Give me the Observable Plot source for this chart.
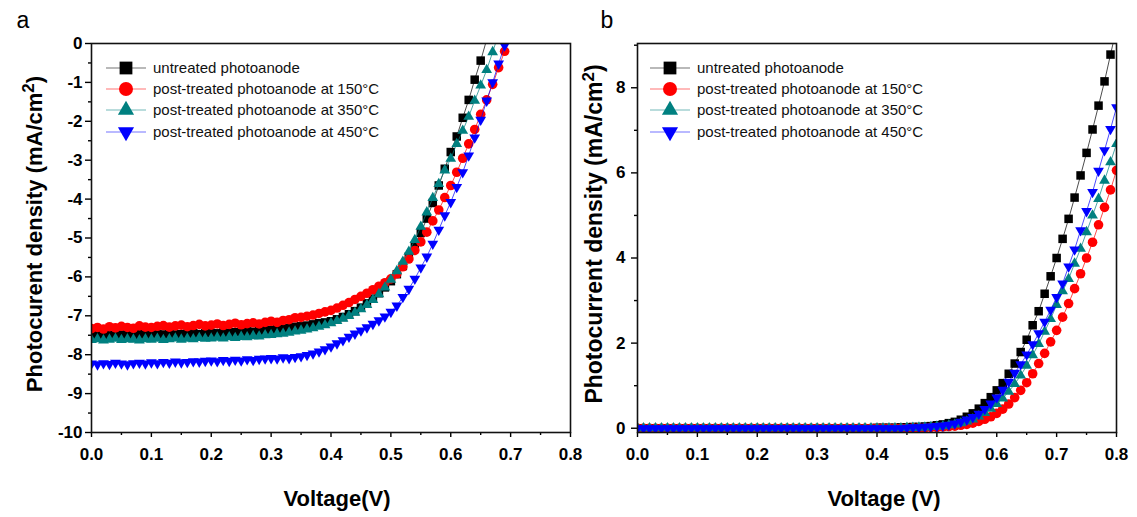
<!DOCTYPE html>
<html><head><meta charset="utf-8">
<script src="https://cdn.jsdelivr.net/npm/d3@7"></script>
<script src="https://cdn.jsdelivr.net/npm/@observablehq/plot@0.6"></script>
<style>
html,body{margin:0;padding:0;background:#fff;}
#wrap{position:relative;width:1137px;height:517px;overflow:hidden;font-family:"Liberation Sans",Arial,sans-serif;}
#wrap svg{position:absolute;top:0;}
</style></head><body><div id="wrap"></div>
<script>
// ---------- shared ----------
const seriesNames = ["untreated photoanode","post-treated photoanode at 150°C","post-treated photoanode at 350°C","post-treated photoanode at 450°C"];
const seriesColors = ["#000000","#ff0000","#008080","#0000ff"];

// ---------- panel a ----------
const voltsA = [0.00,0.01,0.02,0.03,0.04,0.05,0.06,0.07,0.08,0.09,0.10,0.11,0.12,0.13,0.14,0.15,0.16,0.17,0.18,0.19,0.20,0.21,0.22,0.23,0.24,0.25,0.26,0.27,0.28,0.29,0.30,0.31,0.32,0.33,0.34,0.35,0.36,0.37,0.38,0.39,0.40,0.41,0.42,0.43,0.44,0.45,0.46,0.47,0.48,0.49,0.50,0.51,0.52,0.53,0.54,0.55,0.56,0.57,0.58,0.59,0.60,0.61,0.62,0.63,0.64,0.65,0.66,0.67,0.68,0.69,0.70];
const untreatedA = [-7.48,-7.50,-7.47,-7.49,-7.51,-7.48,-7.49,-7.50,-7.47,-7.48,
 -7.49,-7.47,-7.48,-7.46,-7.48,-7.47,-7.46,-7.45,-7.47,-7.45,
 -7.44,-7.45,-7.43,-7.44,-7.42,-7.41,-7.40,-7.41,-7.38,-7.37,
 -7.36,-7.34,-7.33,-7.31,-7.28,-7.27,-7.25,-7.22,-7.19,-7.17,
 -7.14,-7.09,-7.03,-6.96,-6.88,-6.79,-6.68,-6.56,-6.42,-6.27,
 -6.11,-5.93,-5.72,-5.48,-5.20,-4.87,-4.50,-4.10,-3.65,-3.22,
 -2.79,-2.39,-1.91,-1.45,-0.93,-0.44,0.10];
const t150A = [-7.33,-7.30,-7.34,-7.28,-7.31,-7.27,-7.30,-7.32,-7.26,-7.29,
 -7.30,-7.27,-7.25,-7.29,-7.26,-7.24,-7.28,-7.25,-7.22,-7.26,
 -7.24,-7.21,-7.25,-7.22,-7.19,-7.23,-7.20,-7.18,-7.21,-7.17,
 -7.14,-7.17,-7.12,-7.10,-7.05,-7.04,-7.01,-6.98,-6.94,-6.90,
 -6.86,-6.80,-6.73,-6.66,-6.58,-6.50,-6.42,-6.33,-6.24,-6.15,
 -6.05,-5.92,-5.74,-5.54,-5.32,-5.10,-4.85,-4.56,-4.28,-3.96,
 -3.65,-3.31,-2.95,-2.58,-2.21,-1.82,-1.45,-1.05,-0.62,-0.20,
 0.22];
const t350A = [-7.62,-7.60,-7.63,-7.61,-7.59,-7.62,-7.60,-7.61,-7.63,-7.60,
 -7.61,-7.59,-7.62,-7.60,-7.58,-7.61,-7.59,-7.60,-7.57,-7.59,
 -7.58,-7.56,-7.58,-7.55,-7.57,-7.54,-7.55,-7.52,-7.53,-7.50,
 -7.49,-7.47,-7.46,-7.43,-7.40,-7.38,-7.35,-7.32,-7.28,-7.24,
 -7.19,-7.13,-7.07,-7.00,-6.92,-6.83,-6.72,-6.59,-6.44,-6.27,
 -6.07,-5.85,-5.61,-5.35,-5.05,-4.71,-4.34,-3.97,-3.61,-3.26,
 -2.96,-2.58,-2.24,-1.88,-1.47,-1.08,-0.68,-0.22,0.25];
const t450A = [-8.23,-8.25,-8.22,-8.24,-8.21,-8.23,-8.25,-8.22,-8.21,-8.23,
 -8.20,-8.22,-8.19,-8.21,-8.18,-8.20,-8.19,-8.17,-8.18,-8.16,
 -8.15,-8.17,-8.14,-8.16,-8.13,-8.15,-8.12,-8.14,-8.11,-8.10,
 -8.09,-8.10,-8.07,-8.09,-8.06,-8.04,-8.01,-7.97,-7.92,-7.86,
 -7.79,-7.71,-7.63,-7.54,-7.46,-7.38,-7.30,-7.21,-7.12,-7.02,
 -6.90,-6.74,-6.52,-6.31,-6.05,-5.76,-5.48,-5.15,-4.79,-4.42,
 -4.08,-3.69,-3.31,-2.88,-2.42,-1.96,-1.47,-1.00,-0.52,-0.05,
 0.42];
const xTicks = [0,0.1,0.2,0.3,0.4,0.5,0.6,0.7,0.8];
const xMinor = [0.05,0.15,0.25,0.35,0.45,0.55,0.65,0.75];
const yTicksA = [0,-1,-2,-3,-4,-5,-6,-7,-8,-9,-10];
const yMinorA = [-0.5,-1.5,-2.5,-3.5,-4.5,-5.5,-6.5,-7.5,-8.5,-9.5];
const ylabelA = "Photocurent density (mA/cm2)";
const xlabelA = "Voltage(V)";

// ---------- panel b ----------
const voltsB = [0.00,0.01,0.02,0.03,0.04,0.05,0.06,0.07,0.08,0.09,0.10,0.11,0.12,0.13,0.14,0.15,0.16,0.17,0.18,0.19,0.20,0.21,0.22,0.23,0.24,0.25,0.26,0.27,0.28,0.29,0.30,0.31,0.32,0.33,0.34,0.35,0.36,0.37,0.38,0.39,0.40,0.41,0.42,0.43,0.44,0.45,0.46,0.47,0.48,0.49,0.50,0.51,0.52,0.53,0.54,0.55,0.56,0.57,0.58,0.59,0.60,0.61,0.62,0.63,0.64,0.65,0.66,0.67,0.68,0.69,0.70,0.71,0.72,0.73,0.74,0.75,0.76,0.77,0.78,0.79,0.80];
const untreatedB = [0,0,0,0,0,0,0,0,0,0,
 0,0,0,0,0,0,0,0,0,0,
 0,0,0,0,0,0,0,0,0,0,
 0,0,0,0,0,0,0,0,0,0,
 0.01,0.01,0.01,0.01,0.02,0.02,0.03,0.03,0.04,0.05,
 0.07,0.09,0.12,0.15,0.20,0.27,0.35,0.46,0.59,0.73,
 0.89,1.06,1.28,1.52,1.79,2.08,2.42,2.75,3.16,3.57,
 4.00,4.45,4.92,5.42,5.94,6.47,7.02,7.58,8.15,8.78,
 9.40];
const t150B = [0,0,0,0,0,0,0,0,0,0,
 0,0,0,0,0,0,0,0,0,0,
 0,0,0,0,0,0,0,0,0,0,
 0,0,0,0,0,0,0,0,0,0,
 0,0,0,0,0,0,0.01,0.01,0.01,0.02,
 0.02,0.03,0.04,0.05,0.07,0.09,0.12,0.16,0.21,0.27,
 0.35,0.45,0.57,0.72,0.89,1.07,1.28,1.52,1.76,2.03,
 2.30,2.61,2.93,3.28,3.63,4.00,4.37,4.78,5.19,5.60,
 6.06];
const t350B = [0,0,0,0,0,0,0,0,0,0,
 0,0,0,0,0,0,0,0,0,0,
 0,0,0,0,0,0,0,0,0,0,
 0,0,0,0,0,0,0,0,0,0,
 0,0,0,0,0,0.01,0.01,0.02,0.02,0.03,
 0.04,0.05,0.07,0.09,0.12,0.16,0.21,0.28,0.36,0.46,
 0.57,0.70,0.86,1.04,1.24,1.47,1.72,1.98,2.27,2.57,
 2.90,3.22,3.51,3.87,4.22,4.61,5.00,5.39,5.82,6.25,
 6.68];
const t450B = [0,0,0,0,0,0,0,0,0,0,
 0,0,0,0,0,0,0,0,0,0,
 0,0,0,0,0,0,0,0,0,0,
 0,0,0,0,0,0,0,0,0,0,
 0,0,0,0,0,0.01,0.02,0.02,0.03,0.04,
 0.05,0.06,0.08,0.11,0.15,0.20,0.26,0.34,0.45,0.58,
 0.72,0.90,1.09,1.30,1.50,1.73,1.97,2.23,2.50,2.78,
 3.08,3.40,3.80,4.20,4.65,5.10,5.55,6.05,6.53,7.03,
 7.54];
const yTicksB = [0,2,4,6,8];
const yMinorB = [1,3,5,7,9];
const ylabelB = "Photocurrent density (mA/cm2)";
const xlabelB = "Voltage (V)";

// ---------- symbols ----------
const S3 = Math.sqrt(3);
const triangleDown = {draw(context, size) {
  const y = Math.sqrt(size / (S3 * 3));
  context.moveTo(0, 2 * y);
  context.lineTo(S3 * y, -y);
  context.lineTo(-S3 * y, -y);
  context.closePath();
}};
const seriesSymbols = ["square", "circle", "triangle", triangleDown];
const d3Symbols = [d3.symbolSquare, d3.symbolCircle, d3.symbolTriangle, triangleDown];
const dotR = [4.8, 4.8, 4.0, 4.0];
const legendR = [7.2, 7.0, 6.0, 6.0];
const FONT = '"Liberation Sans", Arial, Helvetica, sans-serif';

function panel(o) {
  const marks = [];
  o.series.forEach((vals, s) => {
    const rows = vals.map((J, i) => ({V: o.volts[i], J}));
    marks.push(Plot.line(rows, {x: "V", y: "J", stroke: seriesColors[s], strokeWidth: 1, strokeOpacity: 0.7, clip: true}));
    marks.push(Plot.dot(rows, {x: "V", y: "J", symbol: seriesSymbols[s], r: dotR[s], fill: seriesColors[s], stroke: "none", clip: true}));
  });
  marks.push(
    Plot.axisX({ticks: xTicks, tickSize: 5, tickPadding: 10, tickFormat: d3.format(".1f"), strokeWidth: 1.4, label: null}),
    Plot.axisX({ticks: xMinor, tickSize: 3, strokeWidth: 1.4, fill: "none", label: null}),
    Plot.axisY({ticks: o.yTicks, tickSize: 6, tickPadding: o.yPad, tickFormat: d => String(d), strokeWidth: 1.4, label: null}),
    Plot.axisY({ticks: o.yMinor, tickSize: 3, strokeWidth: 1.4, fill: "none", label: null}),
    Plot.frame({stroke: "#111", strokeWidth: 1.6}),
    Plot.text([o.ylabel], {text: d => d, frameAnchor: "left", textAnchor: "middle", lineAnchor: "middle", rotate: -90, dx: o.ylabelDx, dy: -4, fontSize: o.ylabelSize, fontWeight: "bold"}),
    Plot.text([o.xlabel], {text: d => d, frameAnchor: "bottom", textAnchor: "middle", dx: o.xlabelDx, dy: 73, lineAnchor: "bottom", fontSize: 22, fontWeight: "bold"}),
    Plot.text([o.letter], {text: d => d, frameAnchor: "top-left", dx: o.letterDx, dy: -16, textAnchor: "start", lineAnchor: "bottom", fontSize: 23, fontWeight: "normal"})
  );
  const svg = Plot.plot({
    width: o.width, height: 517,
    marginLeft: o.marginLeft, marginRight: o.marginRight, marginTop: 43, marginBottom: 85,
    x: {domain: [0, 0.8], label: null},
    y: {domain: o.yDomain, label: null},
    style: {fontFamily: FONT, fontSize: "17px", fontWeight: "bold", color: "#000", background: "transparent", overflow: "visible"},
    marks
  });
  // superscript 2 in the y label
  d3.select(svg).selectAll("text").filter(function() { return this.textContent === o.ylabel; }).each(function() {
    const t = d3.select(this);
    const main = o.ylabel.slice(0, o.ylabel.lastIndexOf("2"));
    t.text(null);
    t.append("tspan").text(main);
    t.append("tspan").attr("dy", -8).attr("font-size", Math.round(o.ylabelSize * 0.75)).text("2");
    t.append("tspan").attr("dy", 8).attr("font-size", o.ylabelSize).text(")");
  });
  // legend
  const g = d3.select(svg).append("g").attr("font-weight", "normal").attr("font-size", 15).attr("font-family", FONT);
  const rowsY = [68, 89, 110, 132];
  seriesNames.forEach((name, s) => {
    const y = rowsY[s];
    g.append("line").attr("x1", o.legendX).attr("x2", o.legendX + 40).attr("y1", y).attr("y2", y)
      .attr("stroke", seriesColors[s]).attr("stroke-opacity", 0.55).attr("stroke-width", 1);
    g.append("path").attr("d", d3.symbol(d3Symbols[s], Math.PI * legendR[s] ** 2)())
      .attr("transform", `translate(${o.legendX + 20},${y})`).attr("fill", seriesColors[s]);
    g.append("text").attr("x", o.legendX + 47).attr("y", y).attr("dy", "0.36em")
      .attr("text-anchor", "start").attr("fill", "#111").text(name);
  });
  return svg;
}

const wrap = document.getElementById("wrap");
const svgA = panel({
  volts: voltsA, series: [untreatedA, t150A, t350A, t450A],
  yTicks: yTicksA, yMinor: yMinorA, yDomain: [-10, 0], yPad: 3,
  ylabel: ylabelA, ylabelSize: 22, ylabelDx: -57, xlabel: xlabelA, xlabelDx: 6, letter: "a", letterDx: -75,
  width: 575, marginLeft: 91, marginRight: 5, legendX: 106
});
svgA.style.left = "0px";
wrap.appendChild(svgA);
const svgB = panel({
  volts: voltsB, series: [untreatedB, t150B, t350B, t450B],
  yTicks: yTicksB, yMinor: yMinorB, yDomain: [-0.1, 9.04], yPad: 6,
  ylabel: ylabelB, ylabelSize: 23, ylabelDx: -43, xlabel: xlabelB, xlabelDx: 7, letter: "b", letterDx: -37,
  width: 562, marginLeft: 62, marginRight: 21, legendX: 75
});
svgB.style.left = "575px";
wrap.appendChild(svgB);
</script>
</body></html>
